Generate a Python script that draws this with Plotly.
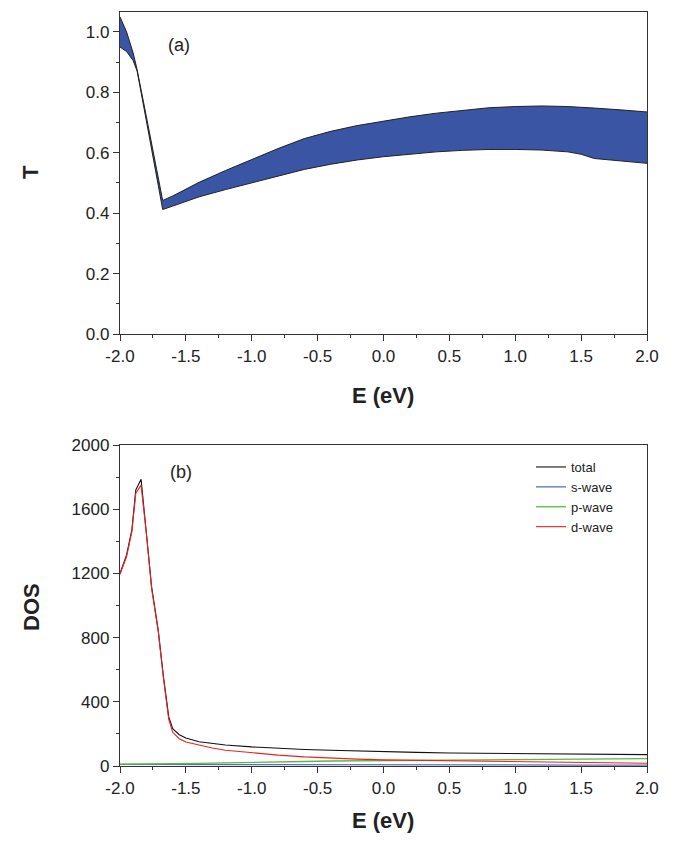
import plotly.graph_objects as go

# ---- Panel (a): transmission band ----
E_T = [-2.0, -1.95, -1.9, -1.87, -1.8, -1.7, -1.676, -1.6, -1.5, -1.4, -1.2, -1.0,
       -0.8, -0.6, -0.4, -0.2, 0.0, 0.2, 0.4, 0.6, 0.8, 1.0, 1.2, 1.4, 1.5, 1.6, 1.8, 2.0]
T_upper = [1.05, 1.0, 0.93, 0.875, 0.72, 0.497, 0.442, 0.457, 0.479, 0.502, 0.541, 0.578,
           0.614, 0.647, 0.671, 0.690, 0.705, 0.719, 0.731, 0.741, 0.749, 0.753, 0.755,
           0.753, 0.751, 0.748, 0.742, 0.735]
T_lower = [0.95, 0.935, 0.905, 0.87, 0.706, 0.472, 0.412, 0.4235, 0.439, 0.454, 0.478, 0.500,
           0.524, 0.545, 0.562, 0.576, 0.587, 0.596, 0.603, 0.608, 0.611, 0.611, 0.609,
           0.603, 0.595, 0.581, 0.573, 0.565]

# ---- Panel (b): DOS ----
E_D = [-2.0, -1.95, -1.91, -1.88, -1.84, -1.8, -1.76, -1.71, -1.67, -1.63, -1.6, -1.55,
       -1.5, -1.4, -1.3, -1.2, -1.0, -0.8, -0.6, -0.4, -0.2, 0.0, 0.25, 0.5, 0.75, 1.0,
       1.25, 1.5, 1.75, 2.0]
dos_total = [1200, 1315, 1471, 1720, 1787, 1470, 1117, 847, 555, 306, 233, 195,
             175, 151, 140, 131, 119, 110, 103, 98, 93, 89, 85, 81, 79, 77, 75, 73, 72, 71]
dos_d = [1195, 1305, 1460, 1700, 1750, 1450, 1105, 840, 545, 290, 210, 170,
         150, 129, 112, 98, 81, 68, 57, 49, 43, 38, 35, 32, 30, 27, 24, 21, 19, 17]
dos_p = [12, 12, 12, 13, 13, 13, 14, 14, 14, 15, 15, 15,
         15, 16, 18, 20, 22, 25, 28, 31, 33, 34, 36, 37, 38, 40, 41, 43, 44, 46]
dos_s = [10, 10, 10, 10, 10, 10, 10, 10, 10, 10, 10, 10,
         10, 10, 9, 9, 9, 9, 8, 8, 8, 8, 7, 7, 7, 6, 6, 6, 5, 5]

FONT = "Liberation Sans, Arial, sans-serif"
AX = "#333333"
TICKFONT = dict(family=FONT, size=17, color="#222")

fig = go.Figure()

fig.add_trace(go.Scatter(x=E_T, y=T_lower, mode="lines", line=dict(color="#222222", width=1),
                         showlegend=False, xaxis="x", yaxis="y"))
fig.add_trace(go.Scatter(x=E_T, y=T_upper, mode="lines", line=dict(color="#222222", width=1),
                         fill="tonexty", fillcolor="#3a55a4", showlegend=False,
                         xaxis="x", yaxis="y"))

fig.add_trace(go.Scatter(x=E_D, y=dos_total, mode="lines", name="total",
                         line=dict(color="#111111", width=1.1), xaxis="x2", yaxis="y2"))
fig.add_trace(go.Scatter(x=E_D, y=dos_s, mode="lines", name="s-wave",
                         line=dict(color="#5a6fbd", width=1.3), xaxis="x2", yaxis="y2"))
fig.add_trace(go.Scatter(x=E_D, y=dos_p, mode="lines", name="p-wave",
                         line=dict(color="#55bb44", width=1.3), xaxis="x2", yaxis="y2"))
fig.add_trace(go.Scatter(x=E_D, y=dos_d, mode="lines", name="d-wave",
                         line=dict(color="#ee2020", width=1.1), xaxis="x2", yaxis="y2"))

# page body has an 8px margin: figure coords = screen coords - 8
W, H = 659, 826
OFF = 8
L, R = 120 - OFF, 647 - OFF


def py(p):
    return (H - (p - OFF)) / H


def px(p):
    return (p - OFF - L) / (R - L)


common_x = dict(range=[-2.0, 2.0], tickmode="array",
                tickvals=[-2.0, -1.5, -1.0, -0.5, 0.0, 0.5, 1.0, 1.5, 2.0],
                ticktext=["-2.0", "-1.5", "-1.0", "-0.5", "0.0", "0.5", "1.0", "1.5", "2.0"],
                ticks="outside", ticklen=6, tickwidth=1.2, tickcolor=AX,
                minor=dict(ticks="outside", ticklen=3, tickwidth=1, tickcolor=AX, dtick=0.25),
                showline=True, linecolor=AX, linewidth=1.3, mirror=True,
                showgrid=False, zeroline=False, tickfont=TICKFONT)

fig.update_layout(
    width=W, height=H,
    margin=dict(l=L, r=W - R, t=0, b=0, autoexpand=False),
    paper_bgcolor="white", plot_bgcolor="white",
    xaxis=dict(common_x, domain=[0, 1], anchor="y"),
    yaxis=dict(domain=[py(334), py(12)], anchor="x", range=[0, 1.066],
               tickmode="array", tickvals=[0, 0.2, 0.4, 0.6, 0.8, 1.0],
               ticktext=["0.0", "0.2", "0.4", "0.6", "0.8", "1.0"],
               ticks="outside", ticklen=6, tickwidth=1.2, tickcolor=AX,
               minor=dict(ticks="outside", ticklen=3, tickwidth=1, tickcolor=AX, dtick=0.1),
               showline=True, linecolor=AX, linewidth=1.3, mirror=True,
               showgrid=False, zeroline=False, tickfont=TICKFONT),
    xaxis2=dict(common_x, domain=[0, 1], anchor="y2"),
    yaxis2=dict(domain=[py(766), py(445)], anchor="x2", range=[0, 2000],
                tickmode="array", tickvals=[0, 400, 800, 1200, 1600, 2000],
                ticks="outside", ticklen=6, tickwidth=1.2, tickcolor=AX,
                minor=dict(ticks="outside", ticklen=3, tickwidth=1, tickcolor=AX, dtick=200),
                showline=True, linecolor=AX, linewidth=1.3, mirror=True,
                showgrid=False, zeroline=False, tickfont=TICKFONT),
    legend=dict(x=px(531), y=py(452), xanchor="left", yanchor="top",
                traceorder="normal",
                bgcolor="rgba(0,0,0,0)", font=dict(family=FONT, size=13, color="#222"),
                tracegroupgap=0, itemwidth=30),
    showlegend=True,
)

ann = [
    dict(text="<b>T</b>", x=px(31), y=py(172), textangle=-90),
    dict(text="<b>E (eV)</b>", x=px(383), y=py(395)),
    dict(text="<b>DOS</b>", x=px(31), y=py(607), textangle=-90),
    dict(text="<b>E (eV)</b>", x=px(383), y=py(820)),
]
for a in ann:
    fig.add_annotation(xref="paper", yref="paper", showarrow=False,
                       xanchor="center", yanchor="middle",
                       font=dict(family=FONT, size=22, color="#222"), **a)

fig.add_annotation(xref="paper", yref="paper", x=px(179), y=py(45), text="(a)",
                   showarrow=False, xanchor="center", yanchor="middle",
                   font=dict(family=FONT, size=18, color="#222"))
fig.add_annotation(xref="paper", yref="paper", x=px(181), y=py(472), text="(b)",
                   showarrow=False, xanchor="center", yanchor="middle",
                   font=dict(family=FONT, size=18, color="#222"))

fig.write_html("out.html")
